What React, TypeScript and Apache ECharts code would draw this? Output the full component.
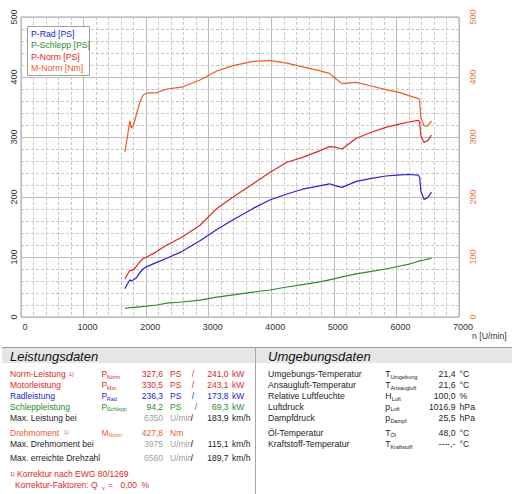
import React, { useEffect, useRef } from "react";
import * as echarts from "echarts";

// ---------- data ----------
const rpm = [1660, 1700, 1740, 1760, 1800, 1850, 1900, 1950, 2010, 2170, 2330, 2570, 2860, 3130, 3390, 3710, 3975, 4250, 4500, 4750, 4930, 5020, 5130, 5360, 5600, 5830, 6060, 6200, 6350, 6370, 6390, 6440, 6500, 6560];
const pRad = [47, 55, 62, 60, 62, 66, 74, 80, 84, 91, 98, 109, 127, 146, 162, 181, 195, 205, 213, 218, 222, 219, 216, 226, 231, 235, 237, 237.5, 236.3, 233, 210, 196, 199, 208];
const pSchlepp = [14.5, 15, 15.5, 15.5, 16, 16.5, 17, 17.5, 18, 20, 23, 25, 28, 33, 37, 41.5, 45, 50, 54, 58, 62, 64, 67, 72, 76, 80, 85, 88, 93, 93.5, 94, 95, 96.5, 98];
const pNorm = [63, 71, 78, 77, 79, 85, 92, 97, 100, 109, 120, 133, 153, 181, 200, 222, 241, 258, 266, 276, 284, 283, 280, 298, 308, 316, 322, 325, 327.6, 326, 302, 291, 294, 303];
const mNorm = [275, 300, 327, 315, 320, 340, 358, 370, 373, 374, 380, 383, 395, 410, 419, 426, 427.8, 423, 417, 411, 406, 398, 389, 391, 385, 379, 374, 369, 364, 362, 332, 319, 318, 327];

const seriesNames = ["P-Rad [PS]", "P-Schlepp [PS]", "P-Norm [PS]", "M-Norm [Nm]"];
const xAxisName = "n [U/min]";

const leftTitle = "Leistungsdaten";
const rightTitle = "Umgebungsdaten";

// label, footnote, symbol, subscript, value1, unit1, value2, unit2, kind
const leftRows = [
  ["Norm-Leistung", "1)", "P", "Norm", "327,6", "PS", "241,0", "kW", "norm"],
  ["Motorleistung", "", "P", "Mot", "330,5", "PS", "243,1", "kW", "norm"],
  ["Radleistung", "", "P", "Rad", "236,3", "PS", "173,8", "kW", "rad"],
  ["Schleppleistung", "", "P", "Schlepp", "94,2", "PS", "69,3", "kW", "schlepp"],
  ["Max. Leistung bei", "", "", "", "6350", "U/min", "183,9", "km/h", "info"],
  ["Drehmoment", "1)", "M", "Norm", "427,8", "Nm", "", "", "torque"],
  ["Max. Drehmoment bei", "", "", "", "3975", "U/min", "115,1", "km/h", "info"],
  ["Max. erreichte Drehzahl", "", "", "", "6560", "U/min", "189,7", "km/h", "info"],
];
const footnote1 = "Korrektur nach EWG 80/1269";
const footnote2 = ["Korrektur-Faktoren: Q", "v", "=", "0,00", "%"];

// label, symbol, subscript, value, unit
const rightRows = [
  ["Umgebungs-Temperatur", "T", "Umgebung", "21,4", "°C"],
  ["Ansaugluft-Temperatur", "T", "Ansaugluft", "21,6", "°C"],
  ["Relative Luftfeuchte", "H", "Luft", "100,0", "%"],
  ["Luftdruck", "p", "Luft", "1016,9", "hPa"],
  ["Dampfdruck", "p", "Dampf", "25,5", "hPa"],
  ["Öl-Temperatur", "T", "Öl", "48,0", "°C"],
  ["Kraftstoff-Temperatur", "T", "Kraftstoff", "----,-", "°C"],
];

// ---------- styling / layout ----------
const FONT = '"Liberation Sans", Arial, Helvetica, sans-serif';
const C_BLUE = "#2323d2";
const C_GREEN = "#2a8c2a";
const C_RED = "#e22626";
const C_ORANGE = "#f05a28";
const C_AXIS_R = "#f07848";
const C_TEXT = "#1e1e1e";
const C_GRAY = "#a0a0a0";

const kindColor: Record<string, string> = {
  norm: C_RED,
  rad: C_BLUE,
  schlepp: C_GREEN,
  torque: C_ORANGE,
  info: C_TEXT,
};

function T(x: number, y: number, text: string, fill: string, size = 8.5, align = "left", extra: any = {}) {
  return {
    type: "text",
    x,
    y,
    silent: true,
    style: {
      text,
      fill,
      fontSize: size,
      fontFamily: FONT,
      align,
      verticalAlign: "middle",
      textAlign: align,
      textVerticalAlign: "middle",
      ...extra,
    },
  };
}

function buildGraphic() {
  const g: any[] = [];
  // legend box
  g.push({
    type: "rect",
    shape: { x: 27.5, y: 26.5, width: 62, height: 49 },
    style: { fill: "#ffffff", stroke: "#a0a0a0", lineWidth: 1 },
    z: 10,
  });
  const legColors = [C_BLUE, C_GREEN, C_RED, C_ORANGE];
  const legY = [34, 45.3, 56.6, 67.9];
  seriesNames.forEach((n, i) => {
    const t: any = T(31, legY[i], n, legColors[i], 8.7);
    t.z = 11;
    g.push(t);
  });
  // x axis name
  g.push(T(472, 336, xAxisName, "#333333", 8.7));

  // table header
  g.push({ type: "rect", shape: { x: 2, y: 347, width: 510, height: 16 }, style: { fill: "#e6e6e6" } });
  g.push({ type: "line", shape: { x1: 2, y1: 347.5, x2: 512, y2: 347.5 }, style: { stroke: "#9a9a9a", lineWidth: 1 } });
  g.push({ type: "line", shape: { x1: 255.5, y1: 347, x2: 255.5, y2: 494 }, style: { stroke: "#a8a8a8", lineWidth: 1 } });
  g.push(T(10, 356, leftTitle, "#111111", 13, "left", { fontStyle: "italic" }));
  g.push(T(268, 356, rightTitle, "#111111", 13, "left", { fontStyle: "italic" }));

  // left rows
  const ly = [374.3, 385, 396, 406.7, 418.3, 432.7, 444, 458.3];
  leftRows.forEach((r, i) => {
    const [label, fn, sym, sub, v1, u1, v2, u2, kind] = r;
    const c = kindColor[kind];
    const y = ly[i];
    g.push(T(10, y, label, c, 8.5));
    if (fn) {
      const fx = label === "Drehmoment" ? 64 : 69;
      g.push(T(fx, y - 0.5, fn, c, 5.5));
    }
    if (sym) {
      g.push(T(101.5, y, sym, c, 8.5));
      g.push(T(sym === "M" ? 108.5 : 106.8, y + 2.5, sub, c, 5.5));
    }
    const info = kind === "info";
    g.push(T(163, y, v1, info ? C_GRAY : c, 8.5, "right"));
    g.push(T(170, y, u1, info ? C_GRAY : c, 8.5));
    if (v2) {
      const sx = kind === "schlepp" ? 196 : info ? 192 : 193;
      g.push(T(sx, y, "/", c, 8.5, "center"));
      g.push(T(228.5, y, v2, c, 8.5, "right"));
      g.push(T(232, y, u2, c, 8.5));
    }
  });
  // footnotes
  g.push(T(10, 473.5, "1)", C_RED, 5.5));
  g.push(T(17, 474, footnote1, C_RED, 8.5));
  g.push(T(15, 485, footnote2[0], C_RED, 8.5));
  g.push(T(102, 487.5, footnote2[1], C_RED, 5.5));
  g.push(T(108, 485, footnote2[2], C_RED, 8.5));
  g.push(T(137, 485, footnote2[3], C_RED, 8.5, "right"));
  g.push(T(141.5, 485, footnote2[4], C_RED, 8.5));

  // right rows
  const ry = [374.3, 385, 396, 406.7, 418.3, 432.7, 444];
  rightRows.forEach((r, i) => {
    const [label, sym, sub, v, u] = r;
    const y = ry[i];
    g.push(T(268, y, label, C_TEXT, 8.7));
    g.push(T(385.3, y, sym, C_TEXT, 8.7));
    g.push(T(sym === "H" ? 391.7 : 390.4, y + 2.5, sub, C_TEXT, 5.5));
    g.push(T(455.5, y, v, C_TEXT, 8.7, "right"));
    g.push(T(459.5, y, u, C_TEXT, 8.7));
  });
  return g;
}

export default function App() {
  const ref = useRef<HTMLDivElement>(null);
  useEffect(() => {
    if (!ref.current) return;
    const chart = echarts.init(ref.current, undefined, { renderer: "svg" });
    const mk = (name: string, vals: number[], color: string, yi: number) => ({
      name,
      type: "line",
      yAxisIndex: yi,
      data: rpm.map((r, i) => [r, vals[i]]),
      showSymbol: false,
      symbol: "none",
      lineStyle: { color, width: 1.2 },
      itemStyle: { color },
      z: 3,
    });
    const gridLine = { show: true, lineStyle: { color: "#bcbcbc", width: 1, type: "solid" } };
    const minorLine = { show: true, lineStyle: { color: "#c8c8c8", width: 1, type: [3, 2] } };
    const plain = (v: number) => String(v);
    chart.setOption({
      animation: false,
      backgroundColor: "#ffffff",
      textStyle: { fontFamily: FONT },
      grid: { left: 21, top: 17, width: 438, height: 300, show: true, borderColor: "#a8a8a8", borderWidth: 1, containLabel: false },
      xAxis: {
        type: "value",
        min: 0,
        max: 7000,
        interval: 1000,
        axisLine: { show: false },
        axisTick: { show: false },
        axisLabel: { fontSize: 9, color: "#333333", margin: 5, fontFamily: FONT, padding: [0, 0, 0, 8], formatter: plain },
        splitLine: gridLine,
        minorTick: { show: false, splitNumber: 5 },
        minorSplitLine: minorLine,
      },
      yAxis: [
        {
          type: "value",
          min: 0,
          max: 500,
          interval: 100,
          position: "left",
          axisLine: { show: false },
          axisTick: { show: false },
          axisLabel: { fontSize: 9, color: "#333333", rotate: 90, margin: 3, fontFamily: FONT, formatter: plain },
          splitLine: gridLine,
          minorTick: { show: false, splitNumber: 5 },
          minorSplitLine: minorLine,
        },
        {
          type: "value",
          min: 0,
          max: 500,
          interval: 100,
          position: "right",
          axisLine: { show: false },
          axisTick: { show: false },
          axisLabel: { fontSize: 9, color: C_AXIS_R, rotate: 90, margin: 9, fontFamily: FONT, formatter: plain },
          splitLine: { show: false },
        },
      ],
      series: [
        mk(seriesNames[1], pSchlepp, C_GREEN, 0),
        mk(seriesNames[0], pRad, C_BLUE, 0),
        mk(seriesNames[2], pNorm, C_RED, 0),
        mk(seriesNames[3], mNorm, C_ORANGE, 1),
      ],
      graphic: buildGraphic(),
    });
    return () => chart.dispose();
  }, []);
  return (
    <div
      ref={ref}
      style={{ position: "fixed", left: 0, top: 0, width: 512, height: 494, background: "#fff" }}
    />
  );
}
